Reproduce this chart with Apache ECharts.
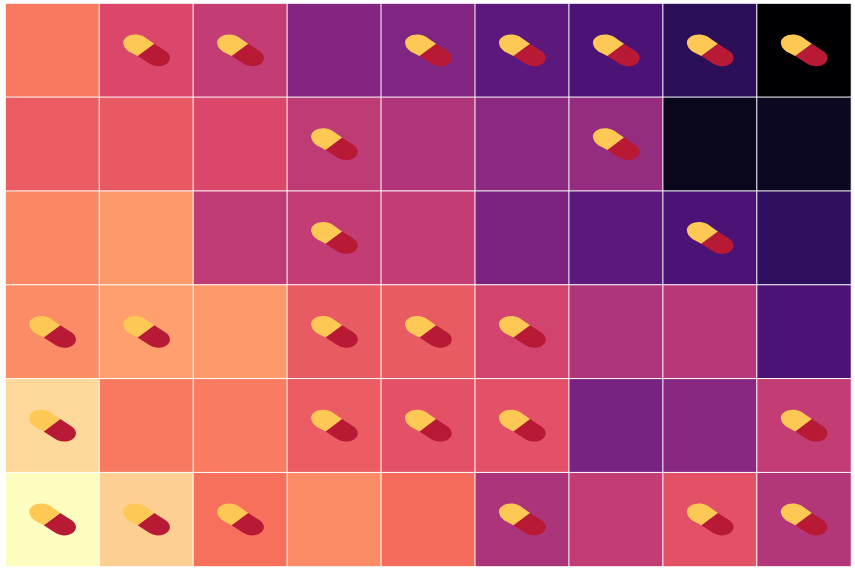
<!DOCTYPE html>
<html>
<head>
<meta charset="utf-8">
<style>
  html, body { margin: 0; padding: 0; background: #fff; }
  #chart { width: 855px; height: 569px; }
</style>
<script src="https://cdn.jsdelivr.net/npm/echarts@6/dist/echarts.min.js"></script>
</head>
<body>
<div id="chart"></div>
<script>
const columns = ['c0', 'c1', 'c2', 'c3', 'c4', 'c5', 'c6', 'c7', 'c8']
const rows = ['r0', 'r1', 'r2', 'r3', 'r4', 'r5']

// values per row (0 = palest, 100 = black)
const row0 = [28, 41, 47, 62, 63, 72, 76, 84, 100]
const row1 = [35, 36, 41, 48, 51.5, 60, 58, 95, 94]
const row2 = [25, 21, 48, 47, 47, 64, 72, 76, 83]
const row3 = [24, 20, 21, 35.5, 35.5, 43, 52, 50, 76]
const row4 = [8, 28, 27.5, 35, 38, 38, 65, 61, 47]
const row5 = [0, 10, 30, 24, 31, 52.5, 47, 38, 51]
const values = [row0, row1, row2, row3, row4, row5]

// 1 = cell carries a pill
const pills0 = [0, 1, 1, 0, 1, 1, 1, 1, 1]
const pills1 = [0, 0, 0, 1, 0, 0, 1, 0, 0]
const pills2 = [0, 0, 0, 1, 0, 0, 0, 1, 0]
const pills3 = [1, 1, 0, 1, 1, 1, 0, 0, 0]
const pills4 = [1, 0, 0, 1, 1, 1, 0, 0, 1]
const pills5 = [1, 1, 1, 0, 0, 1, 0, 1, 1]
const pills = [pills0, pills1, pills2, pills3, pills4, pills5]

// magma_r
const palette = ['#fcfdbf', '#fecf92', '#fe9f6d', '#f7705c', '#de4968', '#b73779', '#8c2981', '#641a80', '#3b0f70', '#140e36', '#000004']

const pillTop = 'M7.8,-6.7 L-2.7,-14 C-6,-15.5 -9,-16 -11,-16 C-17.5,-16 -23.2,-12.5 -23.2,-8 C-23.2,-4.5 -21,-1.5 -17.7,1 L-8.8,5.7 Z'
const pillBottom = 'M7.8,-6.7 L19.2,0.7 C22,2.5 23.5,5 23.5,7.5 C23.5,12.5 18,16 11,15.8 C8,15.7 5,14.5 2,12.7 L-8.8,5.7 Z'

const cellData = []
const pillData = []
values.forEach((row, r) => {
  row.forEach((v, c) => {
    cellData.push([c, r, v])
    if (pills[r][c]) pillData.push([c, r])
  })
})

const myChart = echarts.init(document.getElementById('chart'), null, { renderer: 'canvas' })

myChart.setOption({
  animation: false,
  backgroundColor: '#fff',
  grid: { left: 5.5, top: 3.5, width: 845.5, height: 563 },
  xAxis: { type: 'category', data: columns, show: false },
  yAxis: { type: 'category', data: rows, inverse: true, show: false },
  visualMap: {
    show: false,
    min: 0,
    max: 100,
    seriesIndex: 0,
    inRange: { color: palette }
  },
  series: [
    {
      type: 'heatmap',
      data: cellData,
      itemStyle: { borderColor: '#fff', borderWidth: 1 },
      emphasis: { disabled: true }
    },
    {
      type: 'custom',
      data: pillData,
      z: 5,
      encode: { x: 0, y: 1 },
      renderItem: (params, api) => {
        const p = api.coord([api.value(0), api.value(1)])
        return {
          type: 'group',
          x: p[0],
          y: p[1],
          children: [
            { type: 'path', shape: { pathData: pillBottom }, style: { fill: '#b81a36' } },
            { type: 'path', shape: { pathData: pillTop }, style: { fill: '#fec855' } }
          ]
        }
      }
    }
  ]
})
</script>
</body>
</html>
